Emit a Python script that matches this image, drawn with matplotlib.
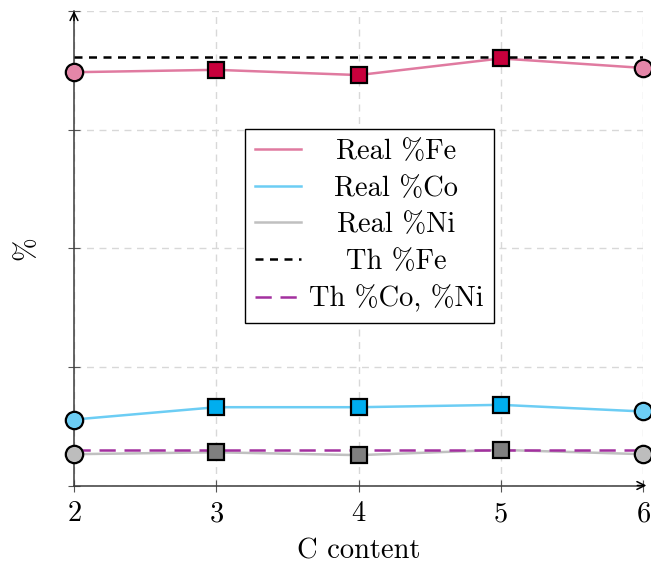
import matplotlib
matplotlib.use("Agg")
import matplotlib.pyplot as plt

plt.rcParams["font.family"] = ["cmr10", "DejaVu Serif"]
plt.rcParams["mathtext.fontset"] = "cm"
plt.rcParams["axes.formatter.use_mathtext"] = True

# Data (percentage scale, y axis runs 0-100)
c_content = [2, 3, 4, 5, 6]
real_fe = [87.1, 87.6, 86.5, 90.0, 88.0]
real_co = [13.9, 16.5, 16.5, 17.0, 15.6]
real_ni = [6.6, 7.0, 6.4, 7.5, 6.6]
th_fe = 90.4
th_co_ni = 7.4
y_ticks = [0, 25, 50, 75, 100]

FS = 20.5

series = [
    ("Real %Fe", real_fe, "#e07aa0", "#e486a8", "#c8003c"),
    ("Real %Co", real_co, "#6ccdf4", "#6ccdf4", "#00aeef"),
    ("Real %Ni", real_ni, "#c0c0c0", "#bdbdbd", "#7f7f7f"),
]

fig = plt.figure(figsize=(6.51, 5.65), dpi=100)
ax = fig.add_axes([74 / 651, 1 - 485.5 / 565, (643 - 74) / 651, (485.5 - 11) / 565])

ax.set_xlim(2, 6)
ax.set_ylim(0, 100)
ax.set_xticks(c_content)
ax.set_yticks(y_ticks)
ax.set_yticklabels([])
ax.grid(True, color="#d8d8d8", linestyle=(0, (5, 4)), linewidth=1.0)
ax.set_axisbelow(True)

for s in ["top", "right"]:
    ax.spines[s].set_visible(False)
for s in ["left", "bottom"]:
    ax.spines[s].set_color("#3a3a3a")
    ax.spines[s].set_linewidth(1.1)
ax.tick_params(direction="inout", length=8, width=0.8, color="#555555",
               labelsize=FS, pad=7)

handles = []
for label, vals, lcol, circ, sq in series:
    ln, = ax.plot(c_content, vals, color=lcol, linewidth=1.8, zorder=3, label=label)
    handles.append(ln)
    ends_x = [c_content[0], c_content[-1]]
    ends_y = [vals[0], vals[-1]]
    ax.plot(ends_x, ends_y, linestyle="none", marker="o", markersize=12.5,
            markerfacecolor=circ, markeredgecolor="black", markeredgewidth=1.6,
            zorder=6, clip_on=False)
    ax.plot(c_content[1:-1], vals[1:-1], linestyle="none", marker="s", markersize=11.5,
            markerfacecolor=sq, markeredgecolor="black", markeredgewidth=1.6,
            zorder=6, clip_on=False)

th1, = ax.plot([c_content[0], c_content[-1]], [th_fe, th_fe], color="black",
               linewidth=1.8, linestyle=(0, (3.2, 2.6)), zorder=4, label="Th %Fe")
th2, = ax.plot([c_content[0], c_content[-1]], [th_co_ni, th_co_ni], color="#a3309f",
               linewidth=1.8, linestyle=(0, (6.5, 3.5)), zorder=4, label="Th %Co, %Ni")
handles += [th1, th2]

# Axis arrows
ax.annotate("", xy=(1.006, 0), xytext=(0.99, 0), xycoords="axes fraction",
            arrowprops=dict(arrowstyle="->", color="black", lw=1.1,
                            mutation_scale=14, shrinkA=0, shrinkB=0))
ax.annotate("", xy=(0, 1.0), xytext=(0, 0.98), xycoords="axes fraction",
            arrowprops=dict(arrowstyle="->", color="black", lw=1.1,
                            mutation_scale=14, shrinkA=0, shrinkB=0))

ax.set_xlabel("C content", fontsize=FS, labelpad=8)
ax.set_ylabel("%", fontsize=FS, labelpad=14)

leg = ax.legend(handles=handles, loc="upper left",
                bbox_to_anchor=(245 / 651, 1 - 129 / 565), bbox_transform=fig.transFigure,
                fontsize=FS, frameon=True, fancybox=False, edgecolor="black",
                framealpha=1, handlelength=1.6, handletextpad=0.3,
                labelspacing=0.36, borderpad=0.35, borderaxespad=0)
leg.get_frame().set_linewidth(1.0)
leg.set_zorder(10)

# Centre each legend label within the text column
fig.canvas.draw()
renderer = fig.canvas.get_renderer()
texts = leg.get_texts()
widths = [t.get_window_extent(renderer).width for t in texts]
wmax = max(widths)
for t, w in zip(texts, widths):
    t.set_position(((wmax - w) / 2, 0))

fig.savefig("out.png", dpi=100)
